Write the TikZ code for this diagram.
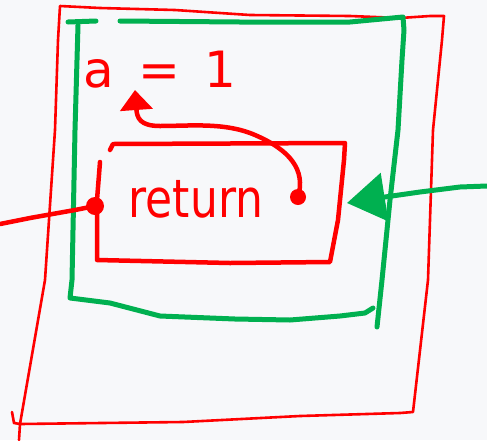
\documentclass[tikz,border=0pt]{standalone}
\usepackage{fontspec}
\setmainfont{DejaVu Sans}
\usetikzlibrary{arrows.meta}
\definecolor{penred}{RGB}{255,0,0}
\definecolor{pengreen}{RGB}{0,176,80}
\definecolor{paper}{RGB}{247,248,250}
\begin{document}
\begin{tikzpicture}[x=1pt,y=-1pt,
  thinred/.style={draw=penred,line width=2.6pt,line cap=round,line join=round},
  thickred/.style={draw=penred,line width=4.5pt,line cap=round,line join=round},
  thickgreen/.style={draw=pengreen,line width=5pt,line cap=round,line join=round},
  dotred/.style={circle,fill=penred,inner sep=0pt,minimum size=18pt},
  inktext/.style={text=penred,inner sep=0pt}]
\useasboundingbox[fill=paper] (0,0) rectangle (487,440);
% outer red frame
\draw[thinred] (19,440) -- (20,424) -- (45,280) -- (55,130) -- (58,40) -- (60,6)
  -- (100,8) -- (175,10) -- (250,15) -- (350,16) -- (400,18) -- (430,16) -- (444,16)
  -- (442,40) -- (433,130) -- (428,280) -- (413,412) -- (400,413) -- (300,416)
  -- (183,422) -- (20,424);
\draw[thinred] (12,412) -- (14,423) -- (20,424);
% green frame
\draw[thickgreen] (68,22) -- (96,21);
\draw[thickgreen] (120,21) -- (240,22) -- (350,22) -- (403,17) -- (404,30) -- (402,60)
  -- (398,130) -- (390,200) -- (382,280) -- (377,327);
\draw[thickgreen] (373,308) -- (365,313) -- (340,316) -- (290,320) -- (235,319)
  -- (160,316) -- (110,303) -- (70,298) -- (72,280) -- (75,130) -- (77,60) -- (78,25);
% inner red box
\draw[thickred] (110,150) -- (113,144) -- (345,143) -- (344,160) -- (338,220)
  -- (330,262) -- (230,263) -- (97,260) -- (97,200) -- (100,162);
% texts
\node[inktext,font=\fontsize{50}{50}\selectfont] (assign) at (160,70) {a\, = \,1};
\node[inktext,font=\fontsize{44}{44}\selectfont] (ret) at (196,199) {\scalebox{1}[1.2]{return}};
% dots
\node[dotred] (indot) at (95,206) {};
\node[dotred,minimum size=16pt] (outdot) at (298,197) {};
\coordinate (leftend) at (0,224);
\draw[thickred] (leftend) -- (30,218) -- (75,210) -- (indot.center);
% curved arrow to a = 1
\coordinate (atip) at (135,90);
\draw[thickred,-{Triangle[width=32pt,length=20pt]}] (outdot.center)
  .. controls (306,170) and (290,150) .. (255,135)
  .. controls (225,122) and (190,126) .. (160,126)
  .. controls (140,126) and (137,118) .. (atip);
% green incoming arrow
\coordinate (rightend) at (487,186);
\coordinate (gtip) at (347,203);
\draw[thickgreen,-{Triangle[width=48pt,length=38pt]}] (rightend) -- (460,187) -- (420,192)
  -- (385,197) -- (gtip);
\end{tikzpicture}
\end{document}
